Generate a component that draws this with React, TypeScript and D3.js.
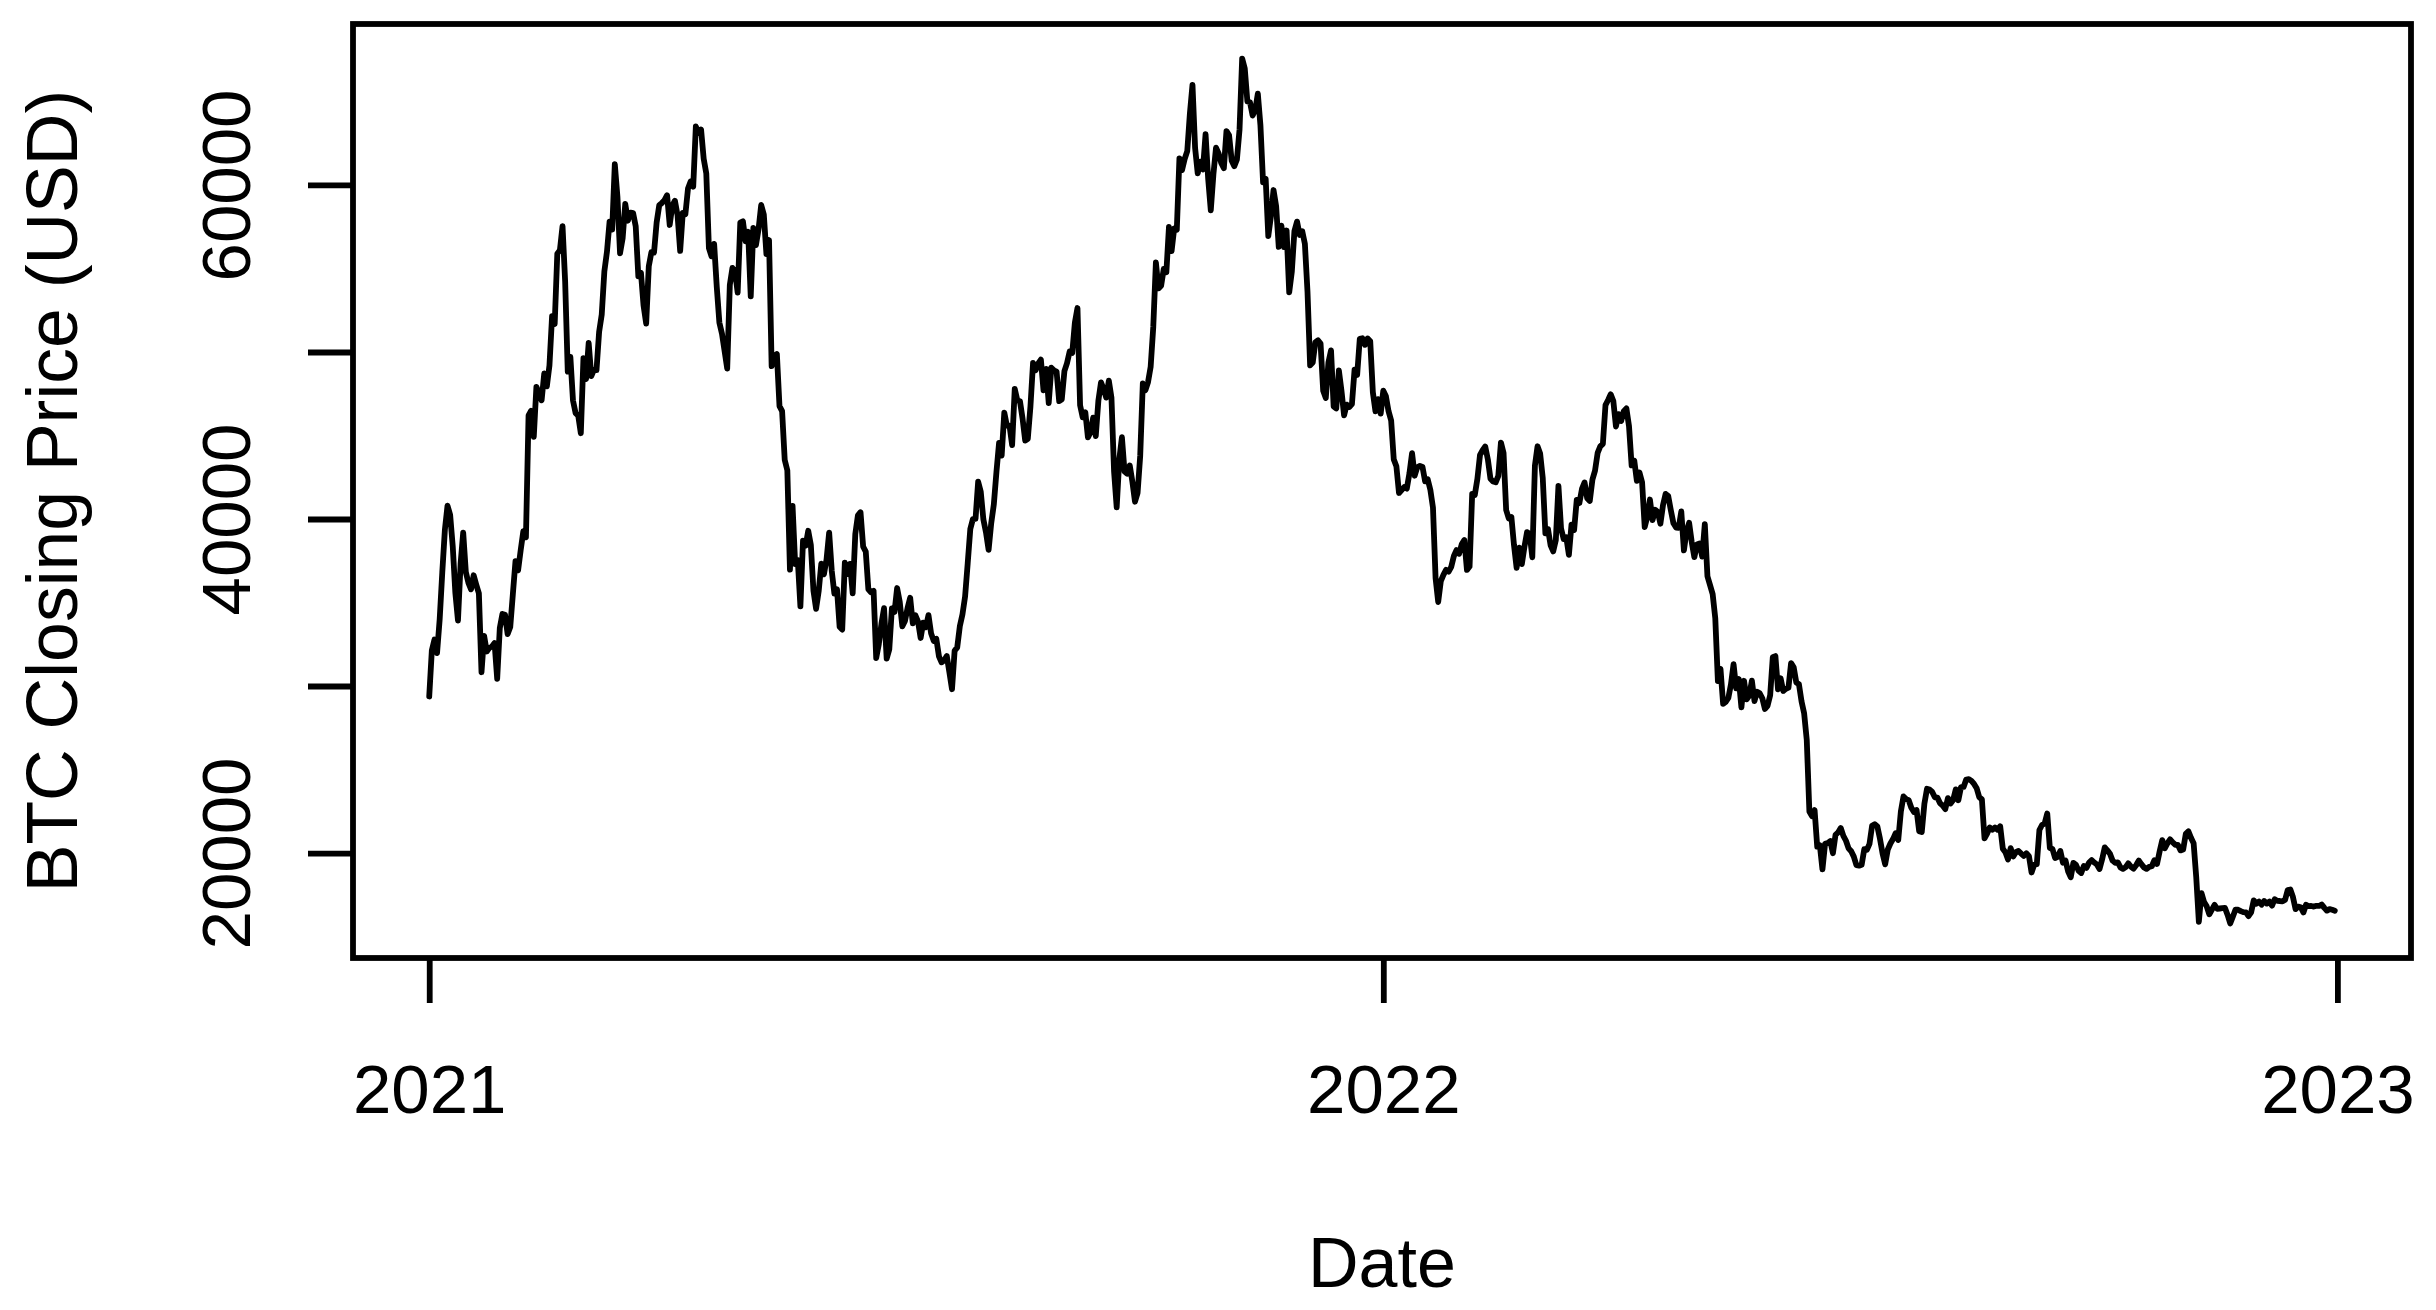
import { useEffect, useRef } from "react";
import * as d3 from "d3";

// daily BTC closes (USD), starting 2021-01-01, one array per quarter
const startDate = "2021-01-01";

const closes2021Q1 = [
  29374, 32127, 32782, 31971, 33992, 36824, 39371, 40797, 40254, 38356, 35566, 33922, 37316, 39187, 36825, 36178,
  35791, 36631, 36069, 35548, 30826, 33005, 32067, 32289, 32366, 32569, 30432, 33466, 34316, 34269, 33114,
  33538, 35510, 37473, 36926, 38144, 39266, 38903, 46196, 46481, 44918, 47909, 47504, 47105, 48717, 47945, 49199,
  52149, 51679, 55888, 56099, 57539, 54207, 48825, 49706, 47093, 46339, 46188, 45137,
  49631, 48378, 50538, 48561, 48927, 48912, 51207, 52246, 54824, 56008, 57805, 57332, 61243, 59302, 55907, 56805,
  58870, 57858, 58346, 58313, 57523, 54529, 54738, 52774, 51704, 55137, 55974, 55948, 57750, 58788, 58918,
];
const closes2021Q2 = [
  59095, 59384, 57604, 58759, 59057, 58192, 56049, 58323, 58245, 59793, 60204, 59893, 63503, 63110, 63315, 61572,
  60683, 56216, 55724, 56473, 53906, 51762, 51093, 50050, 49004, 54021, 55033, 54824, 53555, 57750,
  57828, 56631, 57200, 53333, 57424, 56397, 57356, 58803, 58232, 55859, 56704, 49150, 49716, 49880, 46760, 46456,
  43538, 42909, 36964, 40784, 37305, 37536, 34770, 38706, 38402, 39295, 38436, 35697, 34617, 35678, 37333,
  36685, 37575, 39188, 36885, 35531, 35796, 33552, 33380, 37389, 36703, 37313, 35551, 39098, 40219, 40406, 38348,
  38053, 35788, 35615, 35698, 31676, 32505, 33724, 34662, 31637, 32186, 34650, 34434, 35867, 35041,
];
const closes2021Q3 = [
  33572, 33897, 34668, 35287, 33746, 34236, 33855, 32877, 33798, 33520, 34240, 33155, 32702, 32822, 31780, 31421,
  31533, 31796, 30817, 29807, 32110, 32314, 33581, 34292, 35350, 37338, 39406, 39996, 40008, 42236, 41626,
  39975, 39201, 38153, 39747, 40870, 42817, 44556, 43798, 46366, 45586, 45593, 44428, 47794, 47097, 47047, 46004,
  44695, 44802, 46718, 49340, 48905, 49322, 49546, 47707, 48993, 46942, 49058, 48903, 48830, 47055, 47167,
  48848, 49327, 50026, 49944, 51753, 52634, 46811, 46091, 46391, 44884, 45201, 46064, 44963, 47092, 48177, 47783,
  47267, 48279, 47260, 42843, 40694, 43575, 44896, 42840, 42716, 43208, 42236, 41034, 41564, 43790,
];
const closes2021Q4 = [
  48116, 47712, 48199, 49113, 51514, 55361, 53805, 53967, 54968, 54771, 57485, 56041, 57401, 57321, 61593, 60892,
  61553, 62026, 64262, 65993, 62210, 60693, 61394, 60931, 63039, 60364, 58482, 60622, 62228, 61888, 61318,
  61004, 63227, 62970, 61452, 61125, 61528, 63327, 67566, 66971, 64995, 64950, 64155, 64469, 65466, 63557, 60161,
  60368, 56942, 58119, 59697, 58730, 56289, 57570, 56281, 57274, 53569, 54816, 57248, 57806, 57005,
  57229, 56477, 53598, 49201, 49368, 50582, 50700, 50504, 47672, 47243, 49362, 50098, 46737, 46613, 48896, 47665,
  46202, 46848, 46707, 46880, 48936, 48628, 50784, 50822, 50429, 50809, 50640, 47588, 46444, 47178, 46306,
];
const closes2022Q1 = [
  47686, 47345, 46458, 45897, 43569, 43160, 41558, 41734, 41912, 41821, 42736, 43949, 42591, 43099, 43177, 43113,
  42250, 42375, 41744, 40681, 36457, 35031, 36276, 36654, 36954, 36852, 37138, 37784, 38138, 37917, 38483,
  38743, 36952, 37154, 41501, 41441, 42412, 43841, 44118, 44338, 43565, 42407, 42244, 42197, 42586, 44575, 43961,
  40538, 40030, 40122, 38431, 37075, 38286, 37296, 38332, 39214, 39105, 37710, 43193,
  44354, 43925, 42452, 39138, 39400, 38420, 38062, 38737, 41983, 39437, 38795, 38904, 37849, 39667, 39338, 41143,
  40951, 41801, 42191, 41247, 41078, 42358, 42893, 43960, 44349, 44501, 46821, 47128, 47465, 47062, 45538,
];
const closes2022Q2 = [
  46281, 45868, 46453, 46622, 45555, 43206, 43503, 42288, 42782, 42207, 39521, 40127, 41166, 39936, 40553, 40424,
  39716, 40826, 41503, 41375, 40527, 39740, 39486, 39469, 40458, 38117, 39241, 39773, 38610, 37714,
  38469, 38529, 37750, 39698, 36575, 36040, 35501, 34059, 30296, 31022, 28936, 29047, 29283, 30102, 31305, 29862,
  30425, 28720, 30314, 29200, 29432, 30323, 29098, 29655, 29562, 29267, 28627, 28814, 29445, 31726, 31792,
  29800, 30467, 29704, 29833, 29907, 31371, 31125, 30214, 30112, 29084, 28360, 26763, 22488, 22206, 22572, 20381,
  20471, 19018, 20553, 20599, 20710, 19988, 21086, 21231, 21502, 21028, 20736, 20281, 20105, 19785,
];
const closes2022Q3 = [
  19269, 19243, 19297, 20231, 20191, 20548, 21637, 21731, 21592, 20861, 19970, 19323, 20212, 20569, 20836, 21190,
  20780, 22485, 23390, 23231, 23164, 22715, 22466, 22579, 21310, 21254, 22953, 23846, 23804, 23656, 23337,
  23315, 22978, 22847, 22630, 23289, 22961, 23175, 23810, 23164, 23948, 23957, 24402, 24424, 24319, 24136, 23883,
  23336, 23212, 20877, 21166, 21534, 21398, 21528, 21395, 21600, 20260, 20041, 19616, 20297, 19797, 20050,
  20127, 19969, 19832, 19986, 19813, 18837, 19290, 19329, 21381, 21680, 21770, 22370, 20297, 20242, 19702, 19772,
  20127, 19419, 19545, 18891, 18547, 19414, 19297, 18937, 18802, 19222, 19111, 19426, 19574, 19431,
];
const closes2022Q4 = [
  19312, 19044, 19623, 20337, 20160, 19955, 19547, 19417, 19446, 19141, 19051, 19157, 19382, 19185, 19068, 19268,
  19550, 19334, 19139, 19054, 19172, 19208, 19567, 19345, 20095, 20770, 20285, 20595, 20818, 20635, 20495,
  20485, 20160, 20209, 21148, 21300, 20906, 20591, 18547, 15881, 17601, 17070, 16812, 16330, 16619, 16901, 16663,
  16680, 16698, 16711, 16292, 15787, 16190, 16611, 16604, 16522, 16459, 16444, 16217, 16444, 17168,
  16967, 17089, 16908, 17130, 16975, 17089, 16848, 17233, 17133, 17128, 17104, 17206, 17782, 17816, 17364, 16647,
  16796, 16757, 16439, 16906, 16817, 16830, 16796, 16841, 16832, 16919, 16717, 16552, 16642, 16602, 16547,
];

const yTicks = [20000, 30000, 40000, 50000, 60000];
const yTickLabels = [20000, 40000, 60000];
const xTicks = ["2021-01-01", "2022-01-01", "2023-01-01"];

export default function App() {
  const svgRef = useRef<SVGSVGElement>(null);

  useEffect(() => {
    const width = 2436;
    const height = 1310;
    const plot = { left: 353, right: 2411, top: 24, bottom: 958 };
    const font = "'Liberation Sans', Arial, Helvetica, sans-serif";
    const fontSize = 69;
    const lw = 5.8;

    const svg = d3.select(svgRef.current);
    svg.selectAll("*").remove();

    const parse = d3.utcParse("%Y-%m-%d");
    const t0 = parse(startDate)!;
    const closes = [
      ...closes2021Q1, ...closes2021Q2, ...closes2021Q3, ...closes2021Q4,
      ...closes2022Q1, ...closes2022Q2, ...closes2022Q3, ...closes2022Q4,
    ];
    const data = closes.map((c, i) => ({ date: d3.utcDay.offset(t0, i), close: c }));

    // R style: pad the data range by 4% on each side
    const [d0, d1] = d3.extent(data, d => d.date) as [Date, Date];
    const padX = (+d1 - +d0) * 0.04;
    const x = d3.scaleUtc()
      .domain([new Date(+d0 - padX), new Date(+d1 + padX)])
      .range([plot.left, plot.right]);

    const [c0, c1] = d3.extent(data, d => d.close) as [number, number];
    const padY = (c1 - c0) * 0.04;
    const y = d3.scaleLinear()
      .domain([c0 - padY, c1 + padY])
      .range([plot.bottom, plot.top]);

    svg.append("rect")
      .attr("width", width)
      .attr("height", height)
      .attr("fill", "white");

    const line = d3.line<{ date: Date; close: number }>()
      .x(d => x(d.date))
      .y(d => y(d.close));

    svg.append("path")
      .datum(data)
      .attr("d", line)
      .attr("fill", "none")
      .attr("stroke", "black")
      .attr("stroke-width", lw)
      .attr("stroke-linejoin", "round")
      .attr("stroke-linecap", "round");

    // box
    svg.append("rect")
      .attr("x", plot.left)
      .attr("y", plot.top)
      .attr("width", plot.right - plot.left)
      .attr("height", plot.bottom - plot.top)
      .attr("fill", "none")
      .attr("stroke", "black")
      .attr("stroke-width", lw);

    // y axis
    const yAxis = svg.append("g")
      .attr("transform", `translate(${plot.left},0)`)
      .call(d3.axisLeft(y)
        .tickValues(yTicks)
        .tickSize(45)
        .tickFormat(d => (yTickLabels.includes(+d) ? String(d) : "")));
    yAxis.select(".domain").remove();
    yAxis.selectAll("line").attr("stroke-width", lw);
    yAxis.attr("font-family", font).attr("font-size", fontSize);
    yAxis.selectAll("text")
      .attr("x", 0)
      .attr("dy", 0)
      .attr("text-anchor", "middle")
      .attr("fill", "black")
      .attr("transform", "translate(-103,0) rotate(-90)");

    // x axis
    const xAxis = svg.append("g")
      .attr("transform", `translate(0,${plot.bottom})`)
      .call(d3.axisBottom(x)
        .tickValues(xTicks.map(s => parse(s)!))
        .tickSize(45)
        .tickFormat(d => d3.utcFormat("%Y")(d as Date)));
    xAxis.select(".domain").remove();
    xAxis.selectAll("line").attr("stroke-width", lw);
    xAxis.attr("font-family", font).attr("font-size", fontSize);
    xAxis.selectAll("text")
      .attr("y", 155)
      .attr("dy", 0)
      .attr("fill", "black");

    // axis titles
    svg.append("text")
      .attr("x", (plot.left + plot.right) / 2)
      .attr("y", 1287)
      .attr("text-anchor", "middle")
      .attr("font-family", font)
      .attr("font-size", 70)
      .text("Date");

    svg.append("text")
      .attr("transform", `translate(77,${(plot.top + plot.bottom) / 2}) rotate(-90)`)
      .attr("text-anchor", "middle")
      .attr("font-family", font)
      .attr("font-size", 71.5)
      .text("BTC Closing Price (USD)");
  }, []);

  return (
    <svg
      ref={svgRef}
      width={2436}
      height={1310}
      style={{ position: "absolute", left: 0, top: 0, display: "block" }}
    />
  );
}
